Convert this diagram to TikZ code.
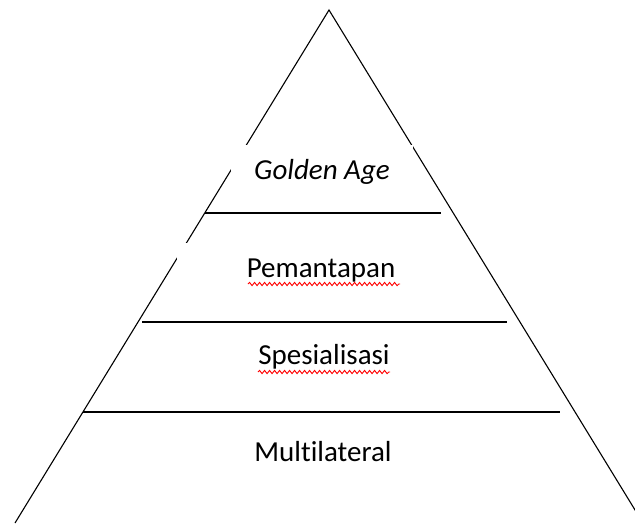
\documentclass[tikz,border=0pt]{standalone}
\usepackage{fontspec}
\setmainfont{Carlito}[Ligatures=NoCommon]
\usepackage{tikz}
\usetikzlibrary{decorations.pathmorphing}

\begin{document}
\begin{tikzpicture}[x=1pt, y=-1pt, line width=1.1pt,
  layer/.style={font=\fontsize{29}{34}\selectfont, fill=white, inner sep=0, align=center},
  squiggle/.style={draw=red, line width=0.9pt, decorate, decoration={snake, segment length=5pt, amplitude=1.6pt}}]
\useasboundingbox (0,0) rectangle (635,523);
%pyramid
\coordinate (top) at (329,10);
\draw (15,523) -- (top) -- (643,523);
%text boxes
\node[layer, minimum width=182, minimum height=54] (golden) at (322,172) {\itshape Golden Age};
\node[layer, minimum width=288, minimum height=56] (pemantapan) at (321,271) {Pemantapan};
\node[layer] (spesialisasi) at (324,357) {Spesialisasi};
\node[layer] (multilateral) at (323,452) {Multilateral};
%dividers
\coordinate (d1l) at (205,213); \coordinate (d1r) at (441,213);
\coordinate (d2l) at (142,322); \coordinate (d2r) at (507,322);
\coordinate (d3l) at (83,412); \coordinate (d3r) at (560,412);
\draw (d1l) -- (d1r);
\draw (d2l) -- (d2r);
\draw (d3l) -- (d3r);
%spell check marks
\draw[squiggle] (pemantapan.center) ++(-73,13) -- ++(152,0);
\draw[squiggle] (spesialisasi.center) ++(-66,15) -- ++(132,0);
\end{tikzpicture}
\end{document}
